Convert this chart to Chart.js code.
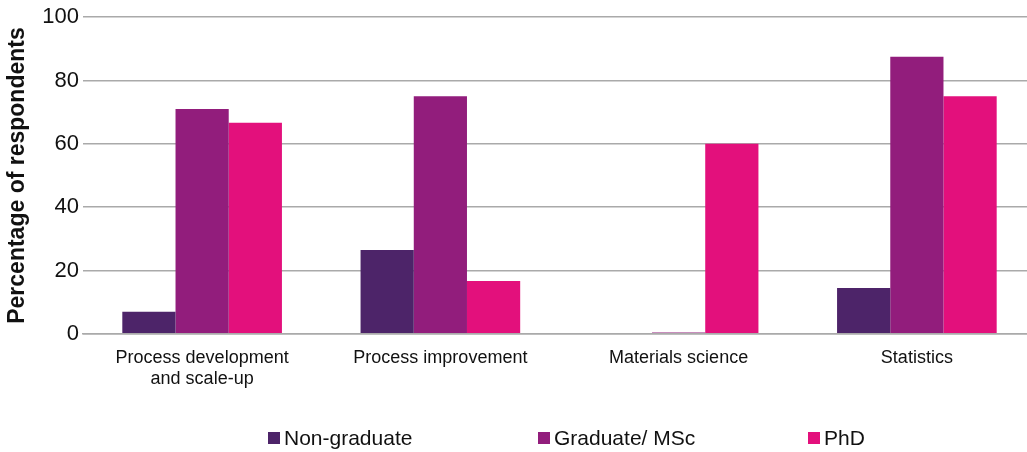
<!DOCTYPE html>
<html><head><meta charset="utf-8">
<script src="https://cdn.jsdelivr.net/npm/chart.js@4/dist/chart.umd.min.js"></script>
<style>html,body{margin:0;padding:0;background:#fff;overflow:hidden}#wrap{width:1036px;height:452px}</style>
</head><body><div id="wrap"><canvas id="c"></canvas></div>
<script>
const categories = [["Process development","and scale-up"],"Process improvement","Materials science","Statistics"];
const seriesNames = ["Non-graduate","Graduate/ MSc","PhD"];
const nonGraduate = [7, 26.5, 0, 14.5];
const graduateMSc = [71, 75, 0.4, 87.5];
const phd = [66.7, 16.7, 60, 75];
const yTicks = [0,20,40,60,80,100];
const colors = ["#4d2469","#921d7c","#e3107c"];

const FONT = "'Liberation Sans', Arial, sans-serif";
Chart.defaults.font.family = FONT;
Chart.defaults.color = "#111";

const bottomLegend = {
  id: 'bottomLegend',
  afterDraw(chart) {
    const ctx = chart.ctx;
    const y = 438, colW = 270, startX = 268, box = 12;
    ctx.save();
    ctx.font = "21px " + FONT;
    ctx.textBaseline = 'middle';
    chart.data.datasets.forEach((ds, i) => {
      const x = startX + i * colW;
      ctx.fillStyle = ds.backgroundColor;
      ctx.fillRect(x, y - box / 2, box, box);
      ctx.fillStyle = '#111';
      ctx.fillText(ds.label, x + box + 4, y + 1);
    });
    ctx.restore();
  }
};

new Chart(document.getElementById('c'), {
  type: 'bar',
  data: {
    labels: categories,
    datasets: [
      {label: seriesNames[0], data: nonGraduate, backgroundColor: colors[0]},
      {label: seriesNames[1], data: graduateMSc, backgroundColor: colors[1]},
      {label: seriesNames[2], data: phd, backgroundColor: colors[2]}
    ]
  },
  plugins: [bottomLegend],
  options: {
    responsive: true, maintainAspectRatio: false, animation: false,
    datasets: {bar: {categoryPercentage: 0.67, barPercentage: 1.0, borderWidth: 0}},
    layout: {padding: {top: 5, right: 0, left: 0, bottom: 57}},
    plugins: {
      tooltip: {enabled: false},
      legend: {display: false}
    },
    scales: {
      x: {
        grid: {display: false},
        border: {display: true, color: '#aaa', width: 1.5},
        ticks: {font: {size: 18, lineHeight: 1.2}, color: '#111', padding: 5, maxRotation: 0, autoSkip: false}
      },
      y: {
        min: 0, max: 100,
        afterBuildTicks: (s) => { s.ticks = yTicks.map(v => ({value: v})); },
        afterFit: (s) => { s.width = 83; },
        grid: {color: '#aaa', lineWidth: 1.5, drawTicks: false},
        border: {display: false},
        ticks: {font: {size: 22}, color: '#111', padding: 4},
        title: {display: true, text: 'Percentage of respondents', font: {size: 23, weight: 'bold'}, color: '#111', padding: {top: 4, bottom: 4}}
      }
    }
  }
});
</script></body></html>
